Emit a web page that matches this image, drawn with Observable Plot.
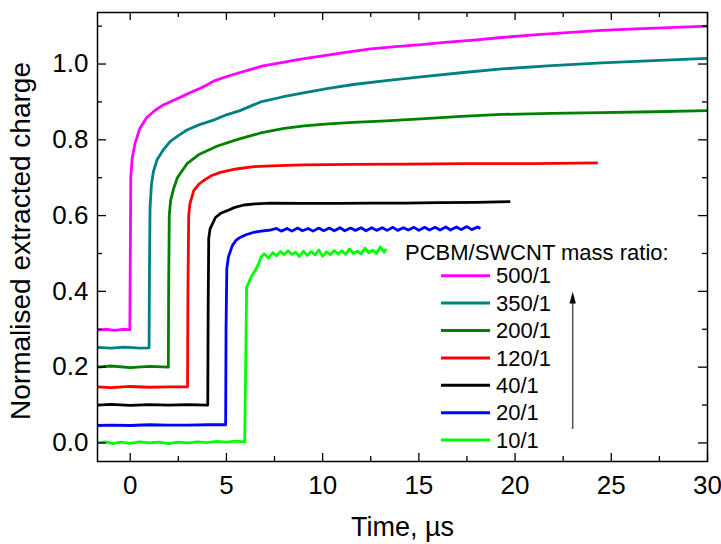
<!DOCTYPE html>
<html>
<head>
<meta charset="utf-8">
<script src="https://cdn.jsdelivr.net/npm/d3@7"></script>
<script src="https://cdn.jsdelivr.net/npm/@observablehq/plot@0.6"></script>
<style>
  html, body { margin: 0; padding: 0; background: #fff; }
  #chart { width: 721px; height: 544px; }
</style>
</head>
<body>
<div id="chart"></div>
<script>
// ---- Data ----
const ratios = ["500/1", "350/1", "200/1", "120/1", "40/1", "20/1", "10/1"];
const colors = ["#ff00ff", "#008080", "#008000", "#ff0000", "#000000", "#0000ff", "#00ff00"];

const s500 = [[-1.7,0.298],[-1.2,0.300],[-0.8,0.297],[-0.4,0.300],[-0.02,0.299],[0.0,0.45],[0.03,0.70],[0.1,0.75],[0.25,0.79],[0.5,0.83],[0.86,0.859],[1.3,0.878],[1.72,0.892],[2.2,0.903],[2.6,0.912],[3.1,0.924],[3.64,0.936],[4.0,0.945],[4.34,0.955],[4.9,0.965],[5.4,0.973],[6.1,0.983],[6.9,0.995],[7.8,1.003],[8.8,1.012],[9.9,1.021],[11.2,1.031],[12.5,1.04],[13.8,1.046],[15.1,1.051],[16.5,1.058],[18.0,1.064],[19.3,1.07],[21.0,1.077],[22.7,1.083],[24.5,1.089],[26.3,1.093],[28.0,1.096],[30.0,1.10]];
const s350 = [[-1.7,0.252],[-1.0,0.250],[-0.3,0.253],[0.5,0.250],[0.98,0.251],[1.0,0.45],[1.03,0.62],[1.1,0.68],[1.2,0.715],[1.4,0.748],[1.7,0.772],[2.07,0.795],[2.5,0.811],[2.95,0.826],[3.6,0.840],[4.33,0.852],[5.0,0.866],[5.7,0.877],[6.78,0.900],[7.9,0.913],[9.0,0.924],[10.3,0.936],[11.6,0.946],[13.3,0.956],[15.1,0.966],[17.2,0.977],[19.3,0.987],[21.9,0.996],[24.5,1.003],[27.2,1.009],[30.0,1.015]];
const s200 = [[-1.7,0.200],[-1.0,0.203],[0.0,0.199],[1.0,0.202],[1.98,0.200],[2.0,0.42],[2.03,0.60],[2.1,0.64],[2.25,0.67],[2.45,0.70],[2.95,0.737],[3.6,0.762],[4.5,0.783],[5.5,0.800],[6.78,0.818],[8.0,0.830],[9.04,0.837],[10.3,0.842],[11.6,0.846],[13.3,0.850],[15.1,0.855],[17.2,0.862],[19.3,0.867],[21.9,0.870],[24.5,0.872],[27.2,0.874],[30.0,0.877]];
const s120 = [[-1.7,0.148],[-1.0,0.146],[0.0,0.149],[1.0,0.147],[2.0,0.148],[2.98,0.148],[3.0,0.40],[3.04,0.60],[3.1,0.63],[3.3,0.666],[3.55,0.682],[3.8,0.692],[4.2,0.705],[4.69,0.714],[5.5,0.723],[6.43,0.729],[7.7,0.732],[9.04,0.734],[11.5,0.735],[14.3,0.736],[17.5,0.737],[21.0,0.737],[24.3,0.739]];
const s40 = [[-1.7,0.100],[-1.0,0.102],[0.0,0.099],[1.0,0.101],[2.0,0.100],[3.0,0.101],[4.03,0.100],[4.05,0.35],[4.08,0.54],[4.15,0.565],[4.43,0.595],[4.7,0.606],[5.04,0.613],[5.4,0.621],[5.9,0.628],[6.5,0.631],[7.3,0.633],[9.0,0.632],[10.8,0.632],[12.5,0.633],[14.3,0.633],[16.0,0.634],[18.0,0.635],[19.75,0.637]];
const s20 = [[-1.7,0.046],[-1.0,0.047],[0.0,0.046],[1.0,0.048],[2.0,0.047],[3.0,0.047],[4.0,0.048],[4.96,0.048],[4.98,0.30],[5.02,0.46],[5.1,0.49],[5.3,0.52],[5.5,0.535],[5.73,0.543],[6.05,0.550],[6.43,0.556],[6.8,0.559],[7.3,0.562],[7.6,0.566],[7.85,0.559],[8.15,0.566],[8.4,0.559],[8.7,0.567],[8.95,0.560],[9.25,0.566],[9.5,0.559],[9.8,0.567],[10.05,0.560],[10.35,0.567],[10.6,0.560],[10.9,0.568],[11.15,0.560],[11.45,0.567],[11.7,0.561],[12.0,0.568],[12.25,0.560],[12.55,0.568],[12.8,0.561],[13.1,0.568],[13.35,0.561],[13.65,0.569],[13.9,0.561],[14.2,0.568],[14.45,0.562],[14.75,0.569],[15.0,0.561],[15.3,0.569],[15.55,0.562],[15.85,0.569],[16.1,0.562],[16.4,0.570],[16.65,0.562],[16.95,0.570],[17.2,0.563],[17.5,0.571],[17.75,0.563],[18.05,0.570],[18.2,0.566]];
const s10 = [[-1.7,0.000],[-1.3,0.003],[-0.9,-0.002],[-0.5,0.002],[0.0,-0.001],[0.5,0.003],[1.0,0.000],[1.5,0.002],[2.0,-0.002],[2.5,0.002],[3.0,0.000],[3.5,0.003],[4.0,0.001],[4.5,0.004],[5.0,0.002],[5.5,0.005],[5.95,0.003],[6.0,0.20],[6.05,0.41],[6.3,0.44],[6.5,0.455],[6.7,0.476],[6.8,0.490],[6.95,0.499],[7.2,0.488],[7.4,0.502],[7.6,0.494],[7.8,0.505],[8.0,0.497],[8.2,0.507],[8.4,0.498],[8.6,0.503],[8.8,0.492],[9.0,0.506],[9.2,0.495],[9.4,0.505],[9.6,0.497],[9.8,0.509],[10.0,0.493],[10.2,0.504],[10.4,0.497],[10.6,0.508],[10.8,0.499],[11.0,0.507],[11.2,0.498],[11.4,0.512],[11.6,0.500],[11.8,0.506],[12.0,0.499],[12.2,0.514],[12.4,0.502],[12.6,0.509],[12.8,0.500],[13.0,0.517],[13.2,0.503],[13.3,0.512]];

const seriesData = [s500, s350, s200, s120, s40, s20, s10];

const xMajor = [0, 5, 10, 15, 20, 25, 30];
const xMinor = [2.5, 7.5, 12.5, 17.5, 22.5, 27.5];
const yMajor = [0.0, 0.2, 0.4, 0.6, 0.8, 1.0];
const yMinor = [0.1, 0.3, 0.5, 0.7, 0.9, 1.1];

const xLabel = "Time, µs";
const yLabel = "Normalised extracted charge";
const legendTitle = "PCBM/SWCNT mass ratio:";

// ---- Build table ----
const rows = [];
seriesData.forEach((s, i) => s.forEach(([t, v]) => rows.push({t, v, ratio: ratios[i]})));

const W = 721, H = 544;
const mL = 97, mR = 14, mT = 12, mB = 83;
const pw = W - mL - mR, ph = H - mT - mB;
const FONT = "'Liberation Sans', Arial, Helvetica, sans-serif";

const plot = Plot.plot({
  width: W, height: H,
  marginLeft: mL, marginRight: mR, marginTop: mT, marginBottom: mB,
  style: {fontFamily: FONT, background: "#fff", color: "#000"},
  x: {domain: [-1.7, 30]},
  y: {domain: [-0.049, 1.136]},
  color: {domain: ratios, range: colors},
  marks: [
    Plot.line(rows, {x: "t", y: "v", z: "ratio", stroke: "ratio", strokeWidth: 2.8, strokeLinejoin: "round", strokeLinecap: "butt"}),
    // inward ticks: bottom/top
    Plot.tickX(xMajor, {x: d => d, insetTop: ph - 8, stroke: "#000", strokeWidth: 1.3}),
    Plot.tickX(xMinor, {x: d => d, insetTop: ph - 5, stroke: "#000", strokeWidth: 1.3}),
    Plot.tickX(xMajor, {x: d => d, insetBottom: ph - 8, stroke: "#000", strokeWidth: 1.3}),
    Plot.tickX(xMinor, {x: d => d, insetBottom: ph - 5, stroke: "#000", strokeWidth: 1.3}),
    // inward ticks: left/right
    Plot.tickY(yMajor, {y: d => d, insetRight: pw - 9, stroke: "#000", strokeWidth: 1.3}),
    Plot.tickY(yMinor, {y: d => d, insetRight: pw - 5, stroke: "#000", strokeWidth: 1.3}),
    Plot.tickY(yMajor, {y: d => d, insetLeft: pw - 9, stroke: "#000", strokeWidth: 1.3}),
    Plot.tickY(yMinor, {y: d => d, insetLeft: pw - 5, stroke: "#000", strokeWidth: 1.3}),
    Plot.axisX(xMajor, {tickSize: 0, tickPadding: 14, fontSize: 26, label: null, fill: "#000"}),
    Plot.axisY(yMajor, {tickSize: 0, tickPadding: 9, fontSize: 26, label: null, fill: "#000", tickFormat: d3.format(".1f")}),
    Plot.text([xLabel], {frameAnchor: "bottom", dy: 66, fontSize: 27, textAnchor: "middle", lineAnchor: "middle", fill: "#000"}),
    Plot.text([yLabel], {frameAnchor: "left", dx: -76, dy: 4, rotate: -90, fontSize: 28, textAnchor: "middle", lineAnchor: "middle", fill: "#000"}),
    Plot.frame({stroke: "#000", strokeWidth: 1.5})
  ]
});

document.getElementById("chart").appendChild(plot);

// ---- Legend (inside plot) ----
const svg = d3.select(plot);
const g = svg.append("g").attr("font-family", FONT).attr("text-anchor", "start");
g.append("text")
  .attr("x", 405).attr("y", 252)
  .attr("dy", "0.35em")
  .attr("text-anchor", "start")
  .attr("font-size", 22)
  .attr("fill", "#000")
  .text(legendTitle);
ratios.forEach((r, i) => {
  const yy = 275.7 + i * 27.4;
  g.append("line")
    .attr("x1", 441).attr("x2", 490)
    .attr("y1", yy).attr("y2", yy)
    .attr("stroke", colors[i]).attr("stroke-width", 3);
  g.append("text")
    .attr("x", 496).attr("y", yy)
    .attr("dy", "0.35em")
    .attr("text-anchor", "start")
    .attr("font-size", 22)
    .attr("fill", "#000")
    .text(r);
});
// arrow
g.append("line")
  .attr("x1", 572.7).attr("x2", 572.7)
  .attr("y1", 429).attr("y2", 300)
  .attr("stroke", "#555").attr("stroke-width", 1.5);
g.append("path")
  .attr("d", "M572.7,291.7 L569.5,303.5 L575.9,303.5 Z")
  .attr("fill", "#000");
</script>
</body>
</html>
